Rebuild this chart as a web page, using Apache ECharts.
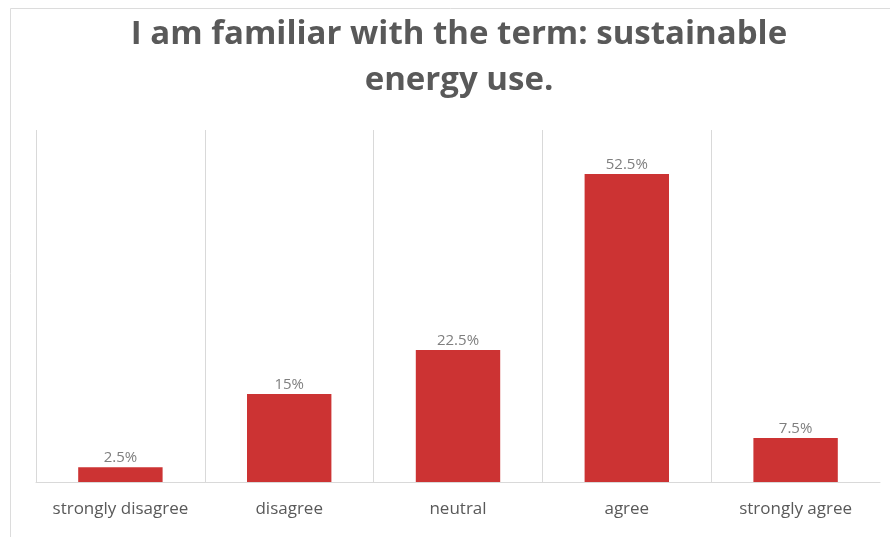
<!DOCTYPE html>
<html>
<head>
<meta charset="utf-8">
<script src="https://cdn.jsdelivr.net/npm/echarts@6/dist/echarts.min.js"></script>
<style>html,body{margin:0;padding:0;background:#fff}#c{width:890px;height:537px}</style>
</head>
<body>
<div id="c"></div>
<script>
var titleText = 'I am familiar with the term: sustainable\nenergy use.';
var categories = ['strongly disagree', 'disagree', 'neutral', 'agree', 'strongly agree'];
var values = [2.5, 15, 22.5, 52.5, 7.5];
var labels = ['2.5%', '15%', '22.5%', '52.5%', '7.5%'];

var chart = echarts.init(document.getElementById('c'), null, {renderer: 'canvas'});
chart.setOption({
  backgroundColor: '#ffffff',
  animation: false,
  graphic: [{
    type: 'rect', silent: true,
    shape: {x: 10.5, y: 8.5, width: 900, height: 600},
    style: {fill: 'none', stroke: '#dcdcdc', lineWidth: 1}
  }],
  title: {
    text: titleText,
    left: 454, top: 7,
    textAlign: 'center',
    textStyle: {fontFamily: 'Open Sans', fontWeight: 'bold', fontSize: 33, color: '#595959', lineHeight: 46}
  },
  grid: {left: 36, right: 10, top: 130, bottom: 55},
  xAxis: {
    type: 'category', data: categories,
    axisLine: {show: true, lineStyle: {color: '#d9d9d9', width: 1}},
    axisTick: {show: false},
    axisLabel: {interval: 0, color: '#595959', fontSize: 17, fontFamily: 'Open Sans', margin: 19},
    splitLine: {show: true, interval: 0, showMaxLine: false, lineStyle: {color: '#d9d9d9', width: 1}}
  },
  yAxis: {
    type: 'value', min: 0, max: 60,
    show: false, splitLine: {show: false}
  },
  series: [{
    type: 'bar', data: values, barWidth: '50%',
    itemStyle: {color: '#cc3333'},
    label: {
      show: true, position: 'top', distance: 2,
      color: '#7f7f7f', fontSize: 15, fontFamily: 'Open Sans',
      formatter: function (p) { return labels[p.dataIndex]; }
    }
  }]
});
</script>
</body>
</html>
